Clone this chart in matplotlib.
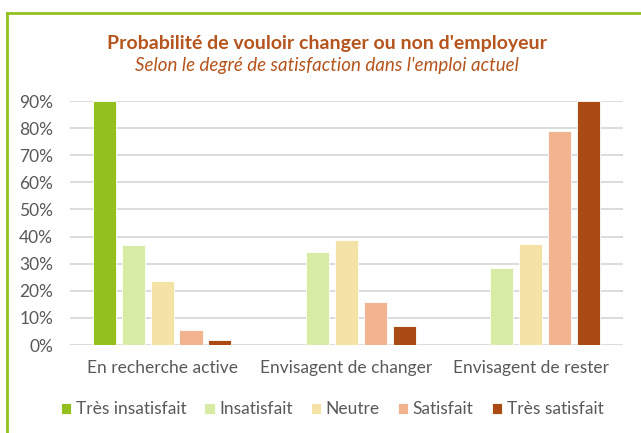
import numpy as np
import matplotlib.pyplot as plt
from matplotlib.lines import Line2D

plt.rcParams["font.family"] = ["Lato", "DejaVu Sans"]

# Data
categories = ["En recherche active", "Envisagent de changer", "Envisagent de rester"]
series = ["Très insatisfait", "Insatisfait", "Neutre", "Satisfait", "Très satisfait"]
values = {
    "Très insatisfait": [90, 0, 0],
    "Insatisfait": [36.8, 34.3, 28.4],
    "Neutre": [23.6, 38.7, 37.4],
    "Satisfait": [5.5, 15.8, 78.9],
    "Très satisfait": [1.8, 6.9, 90],
}
colors = ["#93c01f", "#d7eba4", "#f4e2a6", "#f2b48e", "#aa4b13"]
yticks = [0, 10, 20, 30, 40, 50, 60, 70, 80, 90]

fig = plt.figure(figsize=(6.41, 4.33), dpi=100)
ax = fig.add_axes([0.109, 0.2032, 0.863, 0.5635])

x = np.arange(len(categories))
step = 0.157
width = 0.125
for i, (name, col) in enumerate(zip(series, colors)):
    ax.bar(x + (i - 2) * step, values[name], width=width, color=col,
           edgecolor="white", linewidth=0.6, label=name, zorder=3)

ax.set_ylim(0, 90)
ax.set_xlim(-0.5, 2.5)
ax.set_yticks(yticks)
ax.set_yticklabels([f"{t}%" for t in yticks])
ax.set_xticks(x)
ax.set_xticklabels(categories)
ax.grid(axis="y", color="#d9d9d9", linewidth=1.3, zorder=0)
for s in ax.spines.values():
    s.set_visible(False)
ax.tick_params(axis="both", length=0, labelsize=12.5, labelcolor="#595959")
ax.tick_params(axis="x", pad=11)
ax.tick_params(axis="y", pad=12)

fig.text(0.51, 0.900, "Probabilité de vouloir changer ou non d'employeur",
         ha="center", va="center", fontsize=14, fontweight="bold", color="#b5541c")
fig.text(0.51, 0.849, "Selon le degré de satisfaction dans l'emploi actuel",
         ha="center", va="center", fontsize=13.5, style="italic", color="#b5541c")

fig.legend(loc="center", bbox_to_anchor=(0.518, 0.055), ncol=5, frameon=False,
           fontsize=12.5, handlelength=0.6, handleheight=0.6, handletextpad=0.25,
           columnspacing=1.05, labelcolor="#595959")

# green frame (top and left)
fig.add_artist(Line2D([0.0105, 1.0], [0.971, 0.971], color="#93c01f", linewidth=2,
                      transform=fig.transFigure))
fig.add_artist(Line2D([0.0105, 0.0105], [0.0, 0.971], color="#93c01f", linewidth=2,
                      transform=fig.transFigure))

fig.savefig("out.png", dpi=100)
